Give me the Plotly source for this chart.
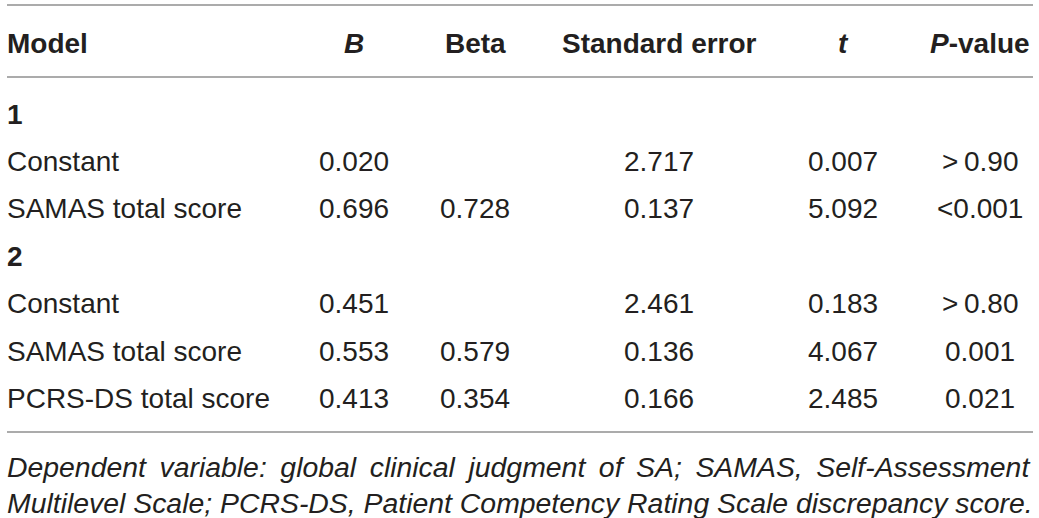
import plotly.graph_objects as go

# table content
headers = ["Model", "<i>B</i>", "Beta", "Standard error", "<i>t</i>", "<i>P</i>-value"]
rows = ["1", "Constant", "SAMAS total score", "2", "Constant", "SAMAS total score", "PCRS-DS total score"]
bold_rows = [True, False, False, True, False, False, False]
b_vals = ["", "0.020", "0.696", "", "0.451", "0.553", "0.413"]
beta_vals = ["", "", "0.728", "", "", "0.579", "0.354"]
se_vals = ["", "2.717", "0.137", "", "2.461", "0.136", "0.166"]
t_vals = ["", "0.007", "5.092", "", "0.183", "4.067", "2.485"]
p_vals = ["", ">\u20090.90", "<0.001", "", ">\u20090.80", "0.001", "0.021"]
footnote = [
    "Dependent variable: global clinical judgment of SA; SAMAS, Self-Assessment",
    "Multilevel Scale; PCRS-DS, Patient Competency Rating Scale discrepancy score.",
]

W, H = 1039, 518
txt = "#231f20"
rule = "#ababab"
fnt = "Liberation Sans, Arial, sans-serif"
size = 28

col_x = [354, 475, 659, 843, 980]
left_x = 5
head_y = 43
row0, step = 114, 47.4

fig = go.Figure()
fig.add_trace(go.Scatter(x=[0, W], y=[0, H], mode="markers",
                         marker=dict(opacity=0), hoverinfo="skip", showlegend=False))

ann = []
# header
ann.append(dict(x=left_x, y=head_y, text="<b>" + headers[0] + "</b>", xanchor="left"))
for hx, h in zip(col_x, headers[1:]):
    ann.append(dict(x=hx, y=head_y, text="<b>" + h + "</b>", xanchor="center"))

# body
columns = [b_vals, beta_vals, se_vals, t_vals, p_vals]
for i, label in enumerate(rows):
    y = row0 + i * step
    lab = "<b>" + label + "</b>" if bold_rows[i] else label
    ann.append(dict(x=left_x, y=y, text=lab, xanchor="left"))
    for cx, col in zip(col_x, columns):
        if col[i]:
            ann.append(dict(x=cx, y=y, text=col[i].replace("<", "&lt;").replace(">", "&gt;"),
                            xanchor="center"))

# footnote, first line stretched a bit to look justified
for j, line in enumerate(footnote):
    if j == 0:
        line = line.replace(" ", " \u2009")
    ann.append(dict(x=left_x, y=467 + j * 36, text="<i>" + line + "</i>", xanchor="left",
                    font=dict(family=fnt, size=28.4, color=txt)))

for a in ann:
    a.setdefault("font", dict(family=fnt, size=size, color=txt))
    a.update(xref="x", yref="y", yanchor="middle", showarrow=False)

shapes = []
for ly in [5, 77, 432]:
    shapes.append(dict(type="line", xref="x", yref="y", x0=7, x1=1033, y0=ly, y1=ly,
                       line=dict(color=rule, width=2)))

fig.update_layout(
    width=W, height=H,
    margin=dict(l=0, r=0, t=0, b=0),
    paper_bgcolor="white", plot_bgcolor="white",
    xaxis=dict(range=[0, W], visible=False, fixedrange=True),
    yaxis=dict(range=[H, 0], visible=False, fixedrange=True),
    annotations=ann, shapes=shapes,
    showlegend=False,
)

# drop the page's default body margin so the figure sits at the window corner
fig.write_html("out.html", config={"displayModeBar": False},
               post_script="document.body.style.margin='0';")
